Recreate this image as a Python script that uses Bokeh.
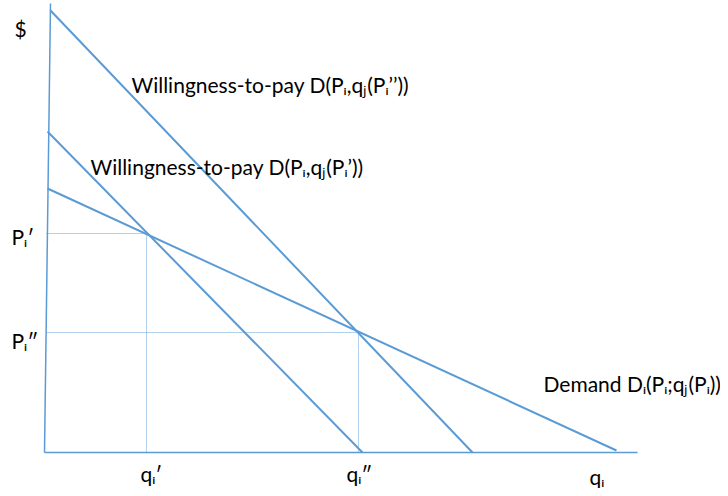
from bokeh.plotting import figure
from bokeh.models import Range1d, ColumnDataSource
from bokeh.core.properties import value
from bokeh.embed import file_html
from bokeh.resources import INLINE

# Axis lines (quantity q_i horizontal, price $ vertical), diagram units
axis_x0 = [0, 0]
axis_y0 = [0, 0]
axis_x1 = [593, 6]
axis_y1 = [0, 449]

# Curves: start and end points
curve_names = ["WTP''", "WTP'", "Demand"]
curve_x0 = [6, 3, 3]
curve_y0 = [442, 321, 264]
curve_x1 = [428, 318, 572]
curve_y1 = [0, 0, 2]

# Equilibrium points
q_eq = [102, 314]
p_eq = [219, 120]

# Labels
label_text = [
    "$",
    "Willingness-to-pay D(Pᵢ,qⱼ(Pᵢ’’))",
    "Willingness-to-pay D(Pᵢ,qⱼ(Pᵢ’))",
    "Pᵢ′",
    "Pᵢ″",
    "qᵢ′",
    "qᵢ″",
    "qᵢ",
    "Demand Dᵢ(Pᵢ;qⱼ(Pᵢ))",
]
label_x = [-30, 87, 46, -33, -33, 96, 302, 545, 499]
label_y = [424, 368, 286, 216, 112, -21, -21, -24, 69]

BLUE = "#5B9BD5"

p = figure(width=720, height=488, output_backend="svg", toolbar_location=None,
           x_range=Range1d(-44, 676), y_range=Range1d(-36, 452),
           min_border=0, min_border_left=0, min_border_right=0,
           min_border_top=0, min_border_bottom=0)
p.axis.visible = False
p.grid.visible = False
p.outline_line_color = None
p.background_fill_color = "white"
p.border_fill_color = "white"

# axes
p.segment(x0=axis_x0, y0=axis_y0, x1=axis_x1, y1=axis_y1,
          line_color=BLUE, line_width=1.5)

# dotted guides
hx0 = [2 for _ in p_eq]
p.segment(x0=hx0, y0=p_eq, x1=q_eq, y1=p_eq, line_color=BLUE,
          line_width=1, line_dash="1 1", line_alpha=0.9)
p.segment(x0=q_eq, y0=[0 for _ in q_eq], x1=q_eq, y1=p_eq, line_color=BLUE,
          line_width=1, line_dash="1 1", line_alpha=0.9)

# curves
p.segment(x0=curve_x0, y0=curve_y0, x1=curve_x1, y1=curve_y1,
          line_color=BLUE, line_width=2)

src = ColumnDataSource(dict(x=label_x, y=label_y, t=label_text))
p.text(x="x", y="y", text="t", source=src, text_font=value("Lato"),
       text_font_size="21px", text_color="black",
       text_baseline="middle", text_align="left")

open("out.html", "w").write(file_html(p, INLINE))
